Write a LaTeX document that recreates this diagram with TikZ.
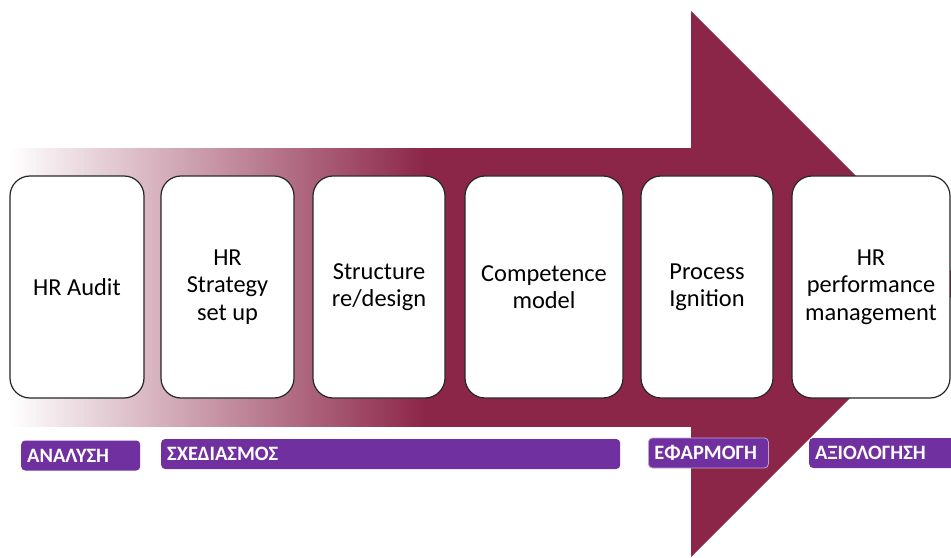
\documentclass[tikz,border=0pt]{standalone}
\usepackage{fontspec}
\setmainfont{Carlito}
\definecolor{maroon}{HTML}{8C2649}
\definecolor{phase}{HTML}{7030A0}
\begin{document}
\begin{tikzpicture}[x=1bp,y=-1bp,
  stepbox/.style={draw=black!85, line width=1.2bp, fill=white, rounded corners=20bp,
    minimum height=222bp, align=center, inner sep=0pt,
    font=\fontsize{24.5}{27.5}\selectfont},
  phasebox/.style={fill=phase, rounded corners=4bp, minimum height=30bp, inner xsep=6bp,
    inner ysep=0pt, anchor=west, align=left, text=white,
    font=\fontsize{20.5}{23}\selectfont\bfseries}]
\useasboundingbox (0,0) rectangle (951,558);
\clip (0,0) rectangle (951,558);
% arrow shaft fading in from the left, built from thin strips
\foreach \i [evaluate=\i as \p using {\i*100/104}] in {0,...,104}{
  \fill[maroon!\p!white] ({8+4*\i},148) rectangle ({8+4*\i+4.6},427);
}
\fill[maroon] (426,148) rectangle (692,427);
% arrow head
\fill[maroon] (691,11) -- (964,284) -- (691,557) -- cycle;
% steps
\node[stepbox, minimum width=134bp] (s1) at (77,287) {HR Audit};
\node[stepbox, minimum width=133bp] (s2) at (227.5,287) {HR\\Strategy\\set up};
\node[stepbox, minimum width=132bp] (s3) at (379,287) {Structure\\re/design};
\node[stepbox, minimum width=158bp] (s4) at (544,287) {Competence\\model};
\node[stepbox, minimum width=132bp] (s5) at (707,287) {Process\\Ignition};
\node[stepbox, minimum width=158bp] (s6) at (871,287) {HR\\performance\\management};
% phases
\node[phasebox, text width=107bp] (p1) at (21,455.5) {ΑΝΑΛΥΣΗ};
\node[phasebox, text width=447bp] (p2) at (161,454) {ΣΧΕΔΙΑΣΜΟΣ};
\node[phasebox, text width=108bp, draw=phase!45, line width=0.8bp] (p3) at (648,453) {ΕΦΑΡΜΟΓΗ};
\node[phasebox, text width=140bp] (p4) at (809,453) {ΑΞΙΟΛΟΓΗΣΗ};
\end{tikzpicture}
\end{document}
